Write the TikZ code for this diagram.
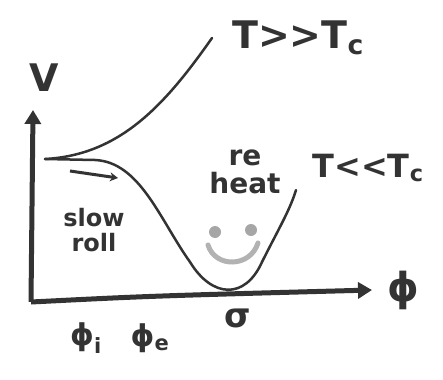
\documentclass[tikz,border=0pt]{standalone}
\usepackage{fontspec}
\setmainfont[Ligatures=NoCommon]{DejaVu Sans}
\usetikzlibrary{arrows.meta}
\begin{document}
\begin{tikzpicture}[x=1pt,y=-1pt,
  ink/.style={color=black!80},
  axis/.style={ink,line width=5pt,-{Triangle[length=14pt,width=16pt]}},
  curve/.style={ink,line width=2.5pt,line cap=round},
  lbl/.style={ink,font=\fontsize{38}{38}\selectfont\bfseries,inner sep=0pt},
  small/.style={ink,font=\fontsize{24}{25}\selectfont\bfseries,inner sep=0pt,align=center}]
\useasboundingbox (0,0) rectangle (443,379);
\coordinate (origin) at (31,302);
\coordinate (ytip) at (33,110);
\coordinate (xtip) at (372,290);
\draw[axis] (origin) -- (ytip);
\draw[axis] (origin) .. controls (150,296) .. (xtip);
% labels
\node[lbl] (vlab) at (44,78) {V};
\node[lbl,font=\fontsize{40}{40}\selectfont\bfseries] (phi) at (403,290) {ϕ};
\node[lbl,font=\fontsize{30}{30}\selectfont\bfseries] (phii) at (86,338) {ϕ\textsubscript{i}};
\node[lbl,font=\fontsize{30}{30}\selectfont\bfseries] (phie) at (150,338) {ϕ\textsubscript{e}};
\node[lbl,font=\fontsize{34}{34}\selectfont\bfseries] (sigma) at (238,318) {σ};
\node[lbl] (thigh) at (298,38) {T{>}{>}T\textsubscript{c}};
\node[lbl,font=\fontsize{32}{32}\selectfont\bfseries] (tlow) at (368,168) {T{<}{<}T\textsubscript{c}};
\node[small] (slow) at (94,230) {slow\\roll};
\node[small,font=\fontsize{28}{28}\selectfont\bfseries] (reheat) at (245,172) {re\\heat};
% curves
\coordinate (start) at (45,159);
\coordinate (hiend) at (212,38);
\coordinate (loend) at (296,190);
\draw[curve] (start) .. controls (120,155) and (165,105) .. (hiend);
\draw[curve] (start) -- (95,160) .. controls (140,162) and (160,220) .. (190,262)
  .. controls (212,298) and (245,300) .. (262,262)
  .. controls (278,230) and (290,210) .. (loend);
% slow roll arrow
\coordinate (sra) at (70,171);
\coordinate (srb) at (118,178);
\draw[ink,line width=3pt,-{Stealth[length=8pt,width=9pt]}] (sra) -- (srb);
% smiley
\fill[black!35] (215,232) circle (6pt);
\fill[black!35] (251,230) circle (6pt);
\draw[black!30,line width=5pt,line cap=round] (208,245) .. controls (215,268) and (250,268) .. (258,243);
\end{tikzpicture}
\end{document}
